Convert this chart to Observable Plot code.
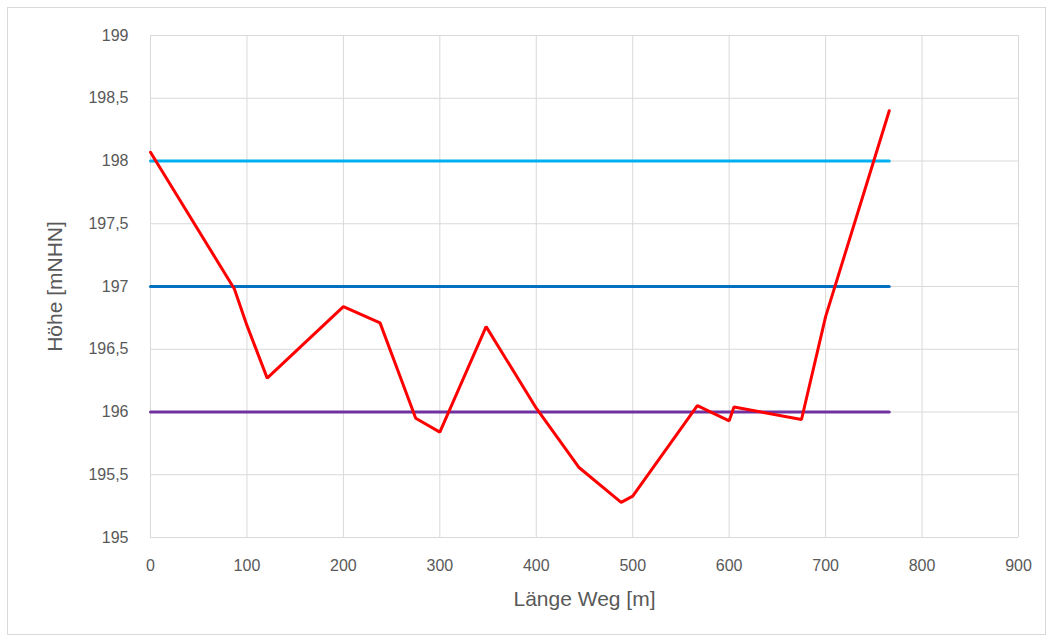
<!DOCTYPE html>
<html>
<head>
<meta charset="utf-8">
<script src="https://cdn.jsdelivr.net/npm/d3@7"></script>
<script src="https://cdn.jsdelivr.net/npm/@observablehq/plot@0.6"></script>
<style>
  html, body { margin: 0; padding: 0; background: #fff; }
  #wrap { position: relative; width: 1054px; height: 643px; }
  #border { position: absolute; left: 7px; top: 7px; width: 1039px; height: 628px; border: 1px solid #d9d9d9; box-sizing: border-box; pointer-events: none; }
</style>
</head>
<body>
<div id="wrap"><div id="border"></div></div>
<script>
// Profile: distance along path [m] and height [mNHN]
const distance = [0, 87, 100, 121, 200, 238, 275, 300, 348, 400, 444, 488, 500, 567, 600, 605, 675, 700, 766];
const height   = [198.07, 196.98, 196.69, 196.27, 196.84, 196.71, 195.95, 195.84, 196.68, 196.03, 195.56, 195.28, 195.33, 196.05, 195.93, 196.04, 195.94, 196.76, 198.40];

// Reference levels
const levelNames  = ["198", "197", "196"];
const levelValues = [198, 197, 196];
const levelColors = ["#00B0F0", "#0070C0", "#7030A0"];
const levelStart = 0;
const levelEnd = 766;

const xTicks = [0, 100, 200, 300, 400, 500, 600, 700, 800, 900];
const yTicks = [195, 195.5, 196, 196.5, 197, 197.5, 198, 198.5, 199];
const xTitle = "Länge Weg [m]";
const yTitle = "Höhe [mNHN]";

const profile = distance.map((d, i) => ({x: d, y: height[i]}));
const levels = [];
levelValues.forEach((v, i) => {
  levels.push({name: levelNames[i], x: levelStart, y: v});
  levels.push({name: levelNames[i], x: levelEnd, y: v});
});

const fmt = v => String(v).replace(".", ",");

const chart = Plot.plot({
  width: 1054,
  height: 643,
  marginLeft: 150,
  marginRight: 36,
  marginTop: 35,
  marginBottom: 106,
  style: {fontFamily: "'Liberation Sans', Arial, sans-serif", fontSize: "16px", color: "#595959", background: "transparent"},
  x: {domain: [0, 900]},
  y: {domain: [195, 199]},
  color: {domain: levelNames, range: levelColors},
  marks: [
    Plot.gridX(xTicks, {stroke: "#d9d9d9", strokeOpacity: 1, strokeWidth: 1}),
    Plot.gridY(yTicks, {stroke: "#d9d9d9", strokeOpacity: 1, strokeWidth: 1}),
    Plot.axisX(xTicks, {tickSize: 0, tickPadding: 22, fill: "#595959", fontSize: 16, label: null}),
    Plot.axisY(yTicks, {tickSize: 0, tickPadding: 22, tickFormat: fmt, fill: "#595959", fontSize: 16, label: null}),
    Plot.text([xTitle], {text: d => d, frameAnchor: "bottom", dy: 68, fontSize: 21, fill: "#595959"}),
    Plot.text([yTitle], {text: d => d, frameAnchor: "left", textAnchor: "middle", dx: -95, rotate: -90, fontSize: 21, fill: "#595959"}),
    Plot.line(levels, {x: "x", y: "y", z: "name", stroke: "name", strokeWidth: 3}),
    Plot.line(profile, {x: "x", y: "y", stroke: "#FF0000", strokeWidth: 3, strokeLinejoin: "miter"})
  ]
});
document.getElementById("wrap").appendChild(chart);
chart.style.position = "absolute";
chart.style.left = "0";
chart.style.top = "0";
</script>
</body>
</html>
